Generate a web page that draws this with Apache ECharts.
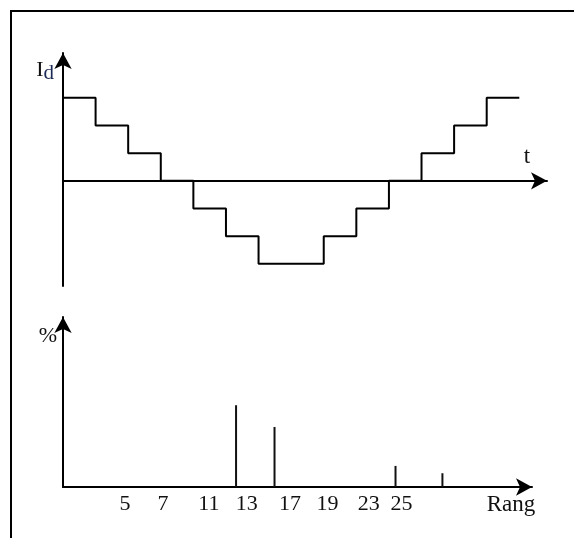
<!DOCTYPE html>
<html lang="en">
<head>
    <meta charset="UTF-8">
    <title>Id staircase and harmonic spectrum</title>
    <script src="https://cdnjs.cloudflare.com/ajax/libs/echarts/6.0.0/echarts.min.js"></script>
    <style>
        body { margin: 0; background: #fff; }
        #frame { position: absolute; left: 10px; top: 10px; right: 0; bottom: 0;
                 border-top: 2px solid #000; border-left: 2px solid #000; }
        #main { position: absolute; left: 0; top: 0; width: 574px; height: 538px; }
    </style>
</head>
<body>

<div id="frame"></div>
<div id="main"></div>
<script type="text/javascript">

    // top chart: staircase current, one step per unit of time
    var tSteps = [0, 1, 2, 3, 4, 5, 6, 8, 9, 10, 11, 12, 13, 14];
    var idLevels = [3, 2, 1, 0, -1, -2, -3, -2, -1, 0, 1, 2, 3, 3];

    // bottom chart: spectrum lines (position on axis, height in %)
    var linePos = [36.9, 45.1, 70.9, 80.9];
    var lineVal = [48.1, 35.3, 12.4, 8.1];

    // tick labels of the bottom axis
    var tickPos = [13.2, 21.3, 31.1, 39.2, 48.4, 56.4, 65.2, 72.2];
    var tickText = ['5', '7', '11', '13', '17', '19', '23', '25'];

    var serif = '"Liberation Serif", "DejaVu Serif", serif';

    var axisLine = {
        symbol: ['none', 'arrow'],
        symbolSize: [13, 16],
        lineStyle: { color: '#000', width: 2 }
    };

    var option;

    window.onload = function () {
        var chartDom = document.getElementById('main');
        var myChart = echarts.init(chartDom, null, { renderer: 'canvas' });

        var wave = [];
        for (var i = 0; i < tSteps.length; i++) {
            wave.push([tSteps[i], idLevels[i]]);
        }
        var spec = [];
        for (var j = 0; j < linePos.length; j++) {
            spec.push([linePos[j], lineVal[j]]);
        }

        option = {
            animation: false,
            grid: [
                { left: 63, top: 53, width: 484, height: 233, outerBoundsMode: 'none' },
                { left: 63, top: 317, width: 469, height: 170, outerBoundsMode: 'none' }
            ],
            xAxis: [
                {
                    gridIndex: 0, type: 'value', min: 0, max: 14.85,
                    axisLine: axisLine, axisTick: { show: false },
                    axisLabel: { show: false }, splitLine: { show: false },
                    name: 't', nameLocation: 'end', nameGap: -20,
                    nameTextStyle: {
                        fontFamily: serif, fontSize: 23, color: '#111',
                        align: 'center', verticalAlign: 'bottom', padding: [0, 0, 12, 0]
                    }
                },
                {
                    gridIndex: 1, type: 'value', min: 0, max: 100,
                    axisLine: axisLine, axisTick: { show: false },
                    splitLine: { show: false },
                    axisLabel: {
                        customValues: tickPos,
                        margin: 6,
                        fontFamily: serif, fontSize: 22, color: '#111',
                        formatter: function (v) {
                            var k = tickPos.indexOf(v);
                            return k >= 0 ? tickText[k] : '';
                        }
                    },
                    name: 'Rang', nameLocation: 'end', nameGap: -21,
                    nameTextStyle: {
                        fontFamily: serif, fontSize: 23, color: '#111',
                        align: 'center', verticalAlign: 'top', padding: [6, 0, 0, 0]
                    }
                }
            ],
            yAxis: [
                {
                    gridIndex: 0, type: 'value', min: -3.8, max: 4.62,
                    axisLine: axisLine, axisTick: { show: false },
                    axisLabel: { show: false }, splitLine: { show: false },
                    name: '{a|I}{b|d}', nameLocation: 'end', nameGap: -17,
                    nameTextStyle: {
                        align: 'right', verticalAlign: 'middle', padding: [0, 9, 0, 0],
                        rich: {
                            a: { fontFamily: serif, fontSize: 22, color: '#111' },
                            b: { fontFamily: serif, fontSize: 21, color: '#1a2a55', padding: [6, 0, 0, 0] }
                        }
                    }
                },
                {
                    gridIndex: 1, type: 'value', min: 0, max: 100,
                    axisLine: axisLine, axisTick: { show: false },
                    axisLabel: { show: false }, splitLine: { show: false },
                    name: '%', nameLocation: 'end', nameGap: -19,
                    nameTextStyle: {
                        fontFamily: serif, fontSize: 22, color: '#111',
                        align: 'right', verticalAlign: 'middle', padding: [0, 6, 0, 0]
                    }
                }
            ],
            series: [
                {
                    type: 'line', xAxisIndex: 0, yAxisIndex: 0,
                    step: 'end', symbol: 'none', data: wave,
                    lineStyle: { color: '#000', width: 2 }
                },
                {
                    type: 'bar', xAxisIndex: 1, yAxisIndex: 1,
                    barWidth: 2, data: spec,
                    itemStyle: { color: '#111' }
                }
            ]
        };

        myChart.setOption(option, true);
    }

</script>

</body>
</html>
